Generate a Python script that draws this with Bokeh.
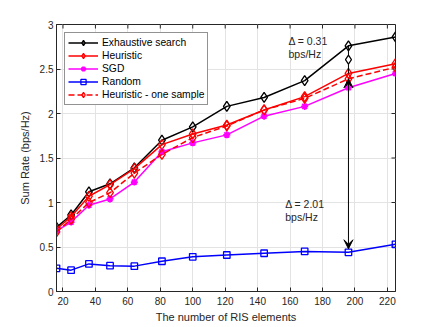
from bokeh.plotting import figure
from bokeh.models import (Legend, LegendItem, Arrow, VeeHead, FixedTicker,
                          NumeralTickFormatter, Label)
from bokeh.embed import file_html
from bokeh.resources import INLINE

# ---- data ----
n_elements = [16, 25, 36, 49, 64, 81, 100, 121, 144, 169, 196, 225]
exhaustive = [0.72, 0.86, 1.12, 1.21, 1.39, 1.70, 1.85, 2.08, 2.18, 2.37, 2.76, 2.86]
heuristic = [0.70, 0.84, 1.07, 1.20, 1.38, 1.65, 1.77, 1.87, 2.04, 2.19, 2.45, 2.56]
sgd = [0.68, 0.78, 0.97, 1.04, 1.23, 1.57, 1.67, 1.76, 1.97, 2.08, 2.29, 2.45]
random_ = [0.26, 0.24, 0.31, 0.29, 0.285, 0.34, 0.39, 0.41, 0.43, 0.45, 0.44, 0.53]
one_sample = [0.67, 0.81, 1.00, 1.11, 1.33, 1.54, 1.73, 1.86, 2.04, 2.17, 2.39, 2.52]
x_ticks = [20, 40, 60, 80, 100, 120, 140, 160, 180, 200, 220]
y_ticks = [0, 0.5, 1, 1.5, 2, 2.5, 3]
series_names = ["Exhaustive search", "Heuristic", "SGD", "Random", "Heuristic - one sample"]
delta_texts = ["\u0394 = 0.31", "\u0394 = 2.01"]
unit_text = "bps/Hz"
gap_index = 10  # the N=196 point where the gaps are marked

FONT = "Liberation Sans"
AX = "#262626"
X0, X1, Y0, Y1 = 16, 225, 0, 3
FW, FH = 339, 267   # frame size in px

p = figure(width=436, height=327, x_range=(X0, X1), y_range=(Y0, Y1),
           output_backend="svg", toolbar_location=None,
           frame_width=FW, frame_height=FH,
           min_border_left=56, min_border_right=41, min_border_top=24,
           min_border_bottom=36)
p.background_fill_color = "white"
p.outline_line_color = AX
p.outline_line_width = 1

for ax in (p.xaxis[0], p.yaxis[0]):
    ax.major_tick_in = 4
    ax.major_tick_out = 0
    ax.minor_tick_line_color = None
    ax.axis_line_color = AX
    ax.major_tick_line_color = AX
    ax.major_label_text_font = FONT
    ax.major_label_text_font_size = "10px"
    ax.major_label_text_color = AX
    ax.axis_label_text_font = FONT
    ax.axis_label_text_font_size = "11px"
    ax.axis_label_text_font_style = "normal"
    ax.axis_label_text_color = AX

p.xaxis.ticker = FixedTicker(ticks=x_ticks)
p.yaxis.ticker = FixedTicker(ticks=y_ticks)
p.yaxis.formatter = NumeralTickFormatter(format="0.[0]")
p.xaxis.axis_label = "The number of RIS elements"
p.yaxis.axis_label = "Sum Rate (bps/Hz)"
p.xaxis.major_label_standoff = 5
p.xaxis.axis_label_standoff = 3
p.yaxis.major_label_standoff = 3
p.yaxis.axis_label_standoff = 6

p.grid.grid_line_color = "#e3e3e3"
p.grid.grid_line_width = 1
p.xgrid.ticker = FixedTicker(ticks=x_ticks)
p.ygrid.ticker = FixedTicker(ticks=y_ticks)

# mirror tick marks on top and right edges (box on)
tlx = 4 * (X1 - X0) / FW
tly = 4 * (Y1 - Y0) / FH
p.segment(x0=x_ticks, y0=[Y1] * len(x_ticks), x1=x_ticks, y1=[Y1 - tly] * len(x_ticks),
          line_color=AX, line_width=1)
p.segment(x0=[X1] * len(y_ticks), y0=y_ticks, x1=[X1 - tlx] * len(y_ticks), y1=y_ticks,
          line_color=AX, line_width=1)

LW = 1.5
r1l = p.line(n_elements, exhaustive, line_color="black", line_width=LW)
r1m = p.scatter(n_elements, exhaustive, marker="diamond", size=10, line_color="black",
                fill_color=None, line_width=1.3)
r2l = p.line(n_elements, heuristic, line_color="#ff0000", line_width=LW)
r2m = p.scatter(n_elements, heuristic, marker="diamond", size=10, line_color="#ff0000",
                fill_color=None, line_width=1.3)
r3l = p.line(n_elements, sgd, line_color="#ff00ff", line_width=LW)
r3m = p.scatter(n_elements, sgd, marker="asterisk", size=7, line_color="#ff00ff",
                line_width=1.8)
r4l = p.line(n_elements, random_, line_color="#0000ff", line_width=LW)
r4m = p.scatter(n_elements, random_, marker="square", size=6.5, line_color="#0000ff",
                fill_color=None, line_width=1.3)
r5l = p.line(n_elements, one_sample, line_color="#ff0000", line_width=LW, line_dash="6 3")
r5m = p.scatter(n_elements, one_sample, marker="diamond", size=10, line_color="#ff0000",
                fill_color=None, line_width=1.3)

# gap annotations
gx = n_elements[gap_index]
p.segment(x0=[gx], y0=[heuristic[gap_index]], x1=[gx], y1=[exhaustive[gap_index]],
          line_color="black", line_width=1)
p.scatter([gx], [(heuristic[gap_index] + exhaustive[gap_index]) / 2], marker="diamond",
          size=9, line_color="black", fill_color="white", line_width=1.2)
p.add_layout(Arrow(x_start=gx, y_start=one_sample[gap_index], x_end=gx,
                   y_end=random_[gap_index] + 0.04,
                   start=VeeHead(size=9, fill_color="black", line_color="black"),
                   end=VeeHead(size=9, fill_color="black", line_color="black"),
                   line_color="black", line_width=1))

for (tx, ty, t) in ((159, 2.81, delta_texts[0]), (159, 2.67, unit_text),
                    (157, 0.98, delta_texts[1]), (157, 0.84, unit_text)):
    p.add_layout(Label(x=tx, y=ty, text=t, text_font=FONT, text_font_size="10.5px",
                       text_color=AX, text_baseline="middle", text_align="left"))

legend = Legend(items=[
    LegendItem(label=series_names[0], renderers=[r1l, r1m]),
    LegendItem(label=series_names[1], renderers=[r2l, r2m]),
    LegendItem(label=series_names[2], renderers=[r3l, r3m]),
    LegendItem(label=series_names[3], renderers=[r4l, r4m]),
    LegendItem(label=series_names[4], renderers=[r5l, r5m]),
], location="top_left")
legend.margin = 8
legend.padding = 3
legend.spacing = 0
legend.glyph_width = 30
legend.glyph_height = 13
legend.label_height = 13
legend.label_standoff = 4
legend.label_text_font = FONT
legend.label_text_font_size = "10.3px"
legend.label_text_color = "black"
legend.border_line_color = AX
legend.border_line_width = 1
legend.background_fill_color = "white"
legend.background_fill_alpha = 1
p.add_layout(legend, "center")

open("out.html", "w").write(file_html(p, INLINE))
